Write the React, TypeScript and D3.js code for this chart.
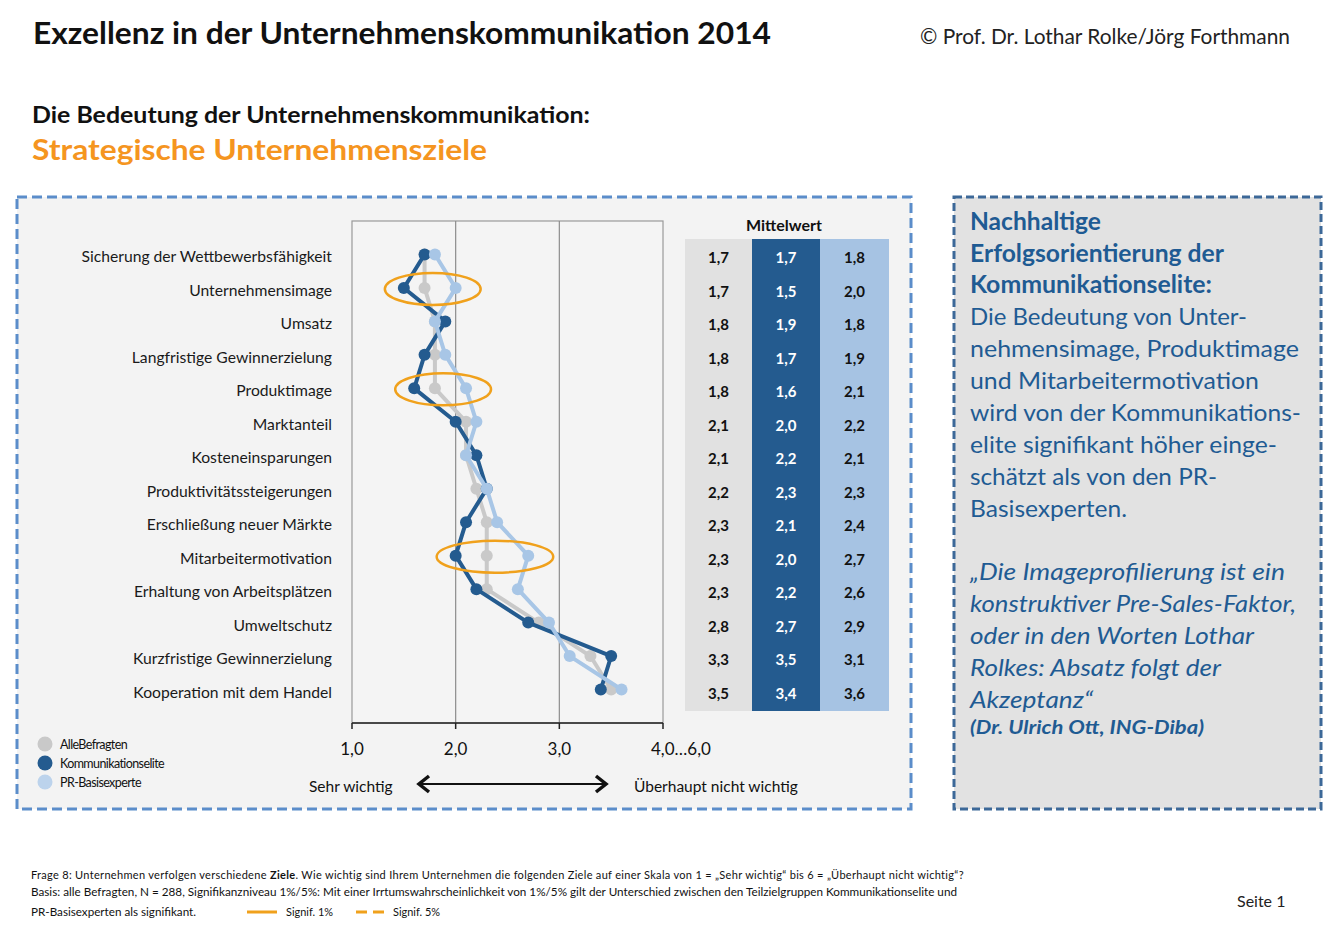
import React from "react";
import * as d3 from "d3";

const categories = [
  "Sicherung der Wettbewerbsfähigkeit",
  "Unternehmensimage",
  "Umsatz",
  "Langfristige Gewinnerzielung",
  "Produktimage",
  "Marktanteil",
  "Kosteneinsparungen",
  "Produktivitätssteigerungen",
  "Erschließung neuer Märkte",
  "Mitarbeitermotivation",
  "Erhaltung von Arbeitsplätzen",
  "Umweltschutz",
  "Kurzfristige Gewinnerzielung",
  "Kooperation mit dem Handel",
];
const alleValues = [1.7, 1.7, 1.8, 1.8, 1.8, 2.1, 2.1, 2.2, 2.3, 2.3, 2.3, 2.8, 3.3, 3.5];
const eliteValues = [1.7, 1.5, 1.9, 1.7, 1.6, 2.0, 2.2, 2.3, 2.1, 2.0, 2.2, 2.7, 3.5, 3.4];
const prValues = [1.8, 2.0, 1.8, 1.9, 2.1, 2.2, 2.1, 2.3, 2.4, 2.7, 2.6, 2.9, 3.1, 3.6];
const seriesNames = ["AlleBefragten", "Kommunikationselite", "PR-Basisexperte"];
const xTickValues = [1, 2, 3, 4];
const xTickLabels = ["1,0", "2,0", "3,0", "4,0…6,0"];
const significantCategories = ["Unternehmensimage", "Produktimage", "Mitarbeitermotivation"];

const FONT = "Lato, 'Noto Sans', Roboto, sans-serif";
const C_GREY = "#c9c9c9";
const C_DARK = "#245b8f";
const C_LIGHT = "#a8c6e6";
const C_ORANGE = "#f0a11c";
const C_TEXTBLUE = "#1f5b93";

export default function App() {
  const x = d3.scaleLinear().domain([1, 4]).range([352, 663]);
  const y = d3.scalePoint<string>().domain(categories).range([221, 723]).padding(1);
  const fmt = (v: number) => d3.format(".1f")(v).replace(".", ",");

  const line = d3
    .line<number>()
    .x((d) => x(d))
    .y((_, i) => y(categories[i]) as number);

  const series = [
    { name: seriesNames[0], values: alleValues, color: C_GREY },
    { name: seriesNames[1], values: eliteValues, color: C_DARK },
    { name: seriesNames[2], values: prValues, color: C_LIGHT },
  ];

  const tableCols = [
    { values: alleValues, fill: "#e1e1e1", text: "#111", x0: 685, x1: 752 },
    { values: eliteValues, fill: C_DARK, text: "#ffffff", x0: 752, x1: 820 },
    { values: prValues, fill: "#a6c3e3", text: "#111", x0: 820, x1: 889 },
  ];

  const boxLines: { t: string; y: number; w: number; style: string }[] = [
    { t: "Nachhaltige", y: 230, w: 131, style: "b" },
    { t: "Erfolgsorientierung der", y: 262, w: 254, style: "b" },
    { t: "Kommunikationselite:", y: 293, w: 242, style: "b" },
    { t: "Die Bedeutung von Unter-", y: 325, w: 277, style: "r" },
    { t: "nehmensimage, Produktimage", y: 357, w: 329, style: "r" },
    { t: "und Mitarbeitermotivation", y: 389, w: 289, style: "r" },
    { t: "wird von der Kommunikations-", y: 421, w: 331, style: "r" },
    { t: "elite signifikant höher einge-", y: 453, w: 307, style: "r" },
    { t: "schätzt als von den PR-", y: 485, w: 247, style: "r" },
    { t: "Basisexperten.", y: 517, w: 157, style: "r" },
    { t: "„Die Imageprofilierung ist ein", y: 580, w: 315, style: "i" },
    { t: "konstruktiver Pre-Sales-Faktor,", y: 612, w: 326, style: "i" },
    { t: "oder in den Worten Lothar", y: 644, w: 284, style: "i" },
    { t: "Rolkes: Absatz folgt der", y: 676, w: 251, style: "i" },
    { t: "Akzeptanz“", y: 708, w: 123, style: "i" },
    { t: "(Dr. Ulrich Ott, ING-Diba)", y: 734, w: 234, style: "bi" },
  ];

  return (
    <div style={{ position: "absolute", left: 0, top: 0 }}>
      <svg width={1340} height={939} style={{ display: "block", background: "#ffffff" }} fontFamily={FONT}>
        {/* Header */}
        <text x={33} y={44} fontSize={30} fontWeight={700} fill="#111" textLength={738} lengthAdjust="spacingAndGlyphs">
          Exzellenz in der Unternehmenskommunikation 2014
        </text>
        <text x={920} y={44} fontSize={21} fill="#222" textLength={370} lengthAdjust="spacingAndGlyphs">
          © Prof. Dr. Lothar Rolke/Jörg Forthmann
        </text>
        <text x={32} y={123} fontSize={23} fontWeight={700} fill="#111" textLength={558} lengthAdjust="spacingAndGlyphs">
          Die Bedeutung der Unternehmenskommunikation:
        </text>
        <text x={32} y={160} fontSize={29} fontWeight={700} fill="#f5951f" textLength={455} lengthAdjust="spacingAndGlyphs">
          Strategische Unternehmensziele
        </text>

        {/* Left panel */}
        <rect x={17} y={197} width={894} height={612} fill="#f3f3f3" stroke="#5b8dca" strokeWidth={3} strokeDasharray="10 5" />

        {/* Plot frame & grid */}
        <rect x={x(1)} y={221} width={x(4) - x(1)} height={723 - 221} fill="#f4f4f4" stroke="#999" strokeWidth={1.2} />
        {xTickValues.slice(1, -1).map((t) => (
          <line key={"g" + t} x1={x(t)} x2={x(t)} y1={221} y2={723} stroke="#8c8c8c" strokeWidth={1.2} />
        ))}
        <line x1={x(1)} x2={x(4)} y1={723} y2={723} stroke="#222" strokeWidth={1.5} />
        {xTickValues.map((t, i) => (
          <g key={"t" + t}>
            <line x1={x(t)} x2={x(t)} y1={723} y2={729} stroke="#222" strokeWidth={1.5} />
            <text
              x={i === xTickValues.length - 1 ? x(t) - 12 : x(t)}
              y={755}
              fontSize={17}
              fill="#111"
              textAnchor={i === xTickValues.length - 1 ? "start" : "middle"}
            >
              {xTickLabels[i]}
            </text>
          </g>
        ))}

        {/* Category labels */}
        {categories.map((c) => (
          <text key={c} x={332} y={(y(c) as number) + 2} fontSize={15.7} fill="#1a1a1a" textAnchor="end" dominantBaseline="central">
            {c}
          </text>
        ))}

        {/* Series */}
        {series.map((s) => (
          <g key={s.name}>
            <path d={line(s.values) as string} fill="none" stroke={s.color} strokeWidth={4} strokeLinejoin="round" />
            {s.values.map((v, i) => (
              <circle key={i} cx={x(v)} cy={y(categories[i]) as number} r={6} fill={s.color} />
            ))}
          </g>
        ))}

        {/* Significance ellipses */}
        {significantCategories.map((c) => {
          const i = categories.indexOf(c);
          const a = x(eliteValues[i]);
          const b = x(prValues[i]);
          const cx = (a + b) / 2 + 3;
          const rx = Math.abs(b - a) / 2 + 22;
          return (
            <ellipse key={"e" + c} cx={cx} cy={(y(c) as number) + 1} rx={rx} ry={16} fill="none" stroke={C_ORANGE} strokeWidth={2.5} />
          );
        })}

        {/* Table */}
        <text x={784} y={231} fontSize={16} fontWeight={700} fill="#111" textAnchor="middle">
          Mittelwert
        </text>
        {tableCols.map((col, ci) => (
          <g key={"col" + ci}>
            <rect x={col.x0} y={239} width={col.x1 - col.x0} height={711 - 239} fill={col.fill} />
            {col.values.map((v, i) => (
              <text
                key={i}
                x={(col.x0 + col.x1) / 2}
                y={(y(categories[i]) as number) + 3}
                fontSize={15}
                fontWeight={700}
                fill={col.text}
                textAnchor="middle"
                dominantBaseline="central"
              >
                {fmt(v)}
              </text>
            ))}
          </g>
        ))}

        {/* Legend */}
        {series.map((s, i) => (
          <g key={"lg" + i}>
            <circle cx={45} cy={744 + i * 19} r={7.5} fill={i === 2 ? "#bcd3ec" : s.color} />
            <text x={60} y={744 + i * 19} fontSize={12.5} fill="#111" dominantBaseline="central" letterSpacing={-0.6}>
              {s.name}
            </text>
          </g>
        ))}

        {/* Scale direction */}
        <text x={309} y={792} fontSize={15.5} fill="#111">Sehr wichtig</text>
        <text x={634} y={792} fontSize={15.5} fill="#111">Überhaupt nicht wichtig</text>
        <line x1={420} x2={605} y1={784} y2={784} stroke="#111" strokeWidth={2} />
        <path d="M429,776 L419,784 L429,792" fill="none" stroke="#111" strokeWidth={3.5} />
        <path d="M596,776 L606,784 L596,792" fill="none" stroke="#111" strokeWidth={3.5} />

        {/* Right panel */}
        <rect x={954} y={197} width={367} height={612} fill="#e2e2e2" stroke="#3c6898" strokeWidth={3} strokeDasharray="8 4" />
        {boxLines.map((l, i) => (
          <text
            key={"bl" + i}
            x={970}
            y={l.y}
            fontSize={l.style === "bi" ? 19 : 24}
            fontWeight={l.style === "b" || l.style === "bi" ? 700 : 400}
            fontStyle={l.style === "i" || l.style === "bi" ? "italic" : "normal"}
            fill={C_TEXTBLUE}
            textLength={l.w}
            lengthAdjust="spacingAndGlyphs"
          >
            {l.t}
          </text>
        ))}

        {/* Footer */}
        <text x={31} y={879} fontSize={11} fill="#111" letterSpacing={0.31}>
          Frage 8: Unternehmen verfolgen verschiedene <tspan fontWeight={700}>Ziele</tspan>. Wie wichtig sind Ihrem Unternehmen die folgenden Ziele auf einer Skala von 1 = „Sehr wichtig“ bis 6 = „Überhaupt nicht wichtig“?
        </text>
        <text x={31} y={896} fontSize={12} fill="#111" textLength={926} lengthAdjust="spacingAndGlyphs">
          Basis: alle Befragten, N = 288, Signifikanzniveau 1%/5%: Mit einer Irrtumswahrscheinlichkeit von 1%/5% gilt der Unterschied zwischen den Teilzielgruppen Kommunikationselite und
        </text>
        <text x={31} y={916} fontSize={12} fill="#111" textLength={165} lengthAdjust="spacingAndGlyphs">
          PR-Basisexperten als signifikant.
        </text>
        <line x1={247} x2={277} y1={912} y2={912} stroke={C_ORANGE} strokeWidth={3} />
        <text x={286} y={916} fontSize={12} fill="#111" textLength={47} lengthAdjust="spacingAndGlyphs">Signif. 1%</text>
        <line x1={356} x2={384} y1={912} y2={912} stroke={C_ORANGE} strokeWidth={3} strokeDasharray="11 6" />
        <text x={393} y={916} fontSize={12} fill="#111" textLength={47} lengthAdjust="spacingAndGlyphs">Signif. 5%</text>

        <text x={1237} y={907} fontSize={16} fill="#222">Seite 1</text>
      </svg>
    </div>
  );
}
